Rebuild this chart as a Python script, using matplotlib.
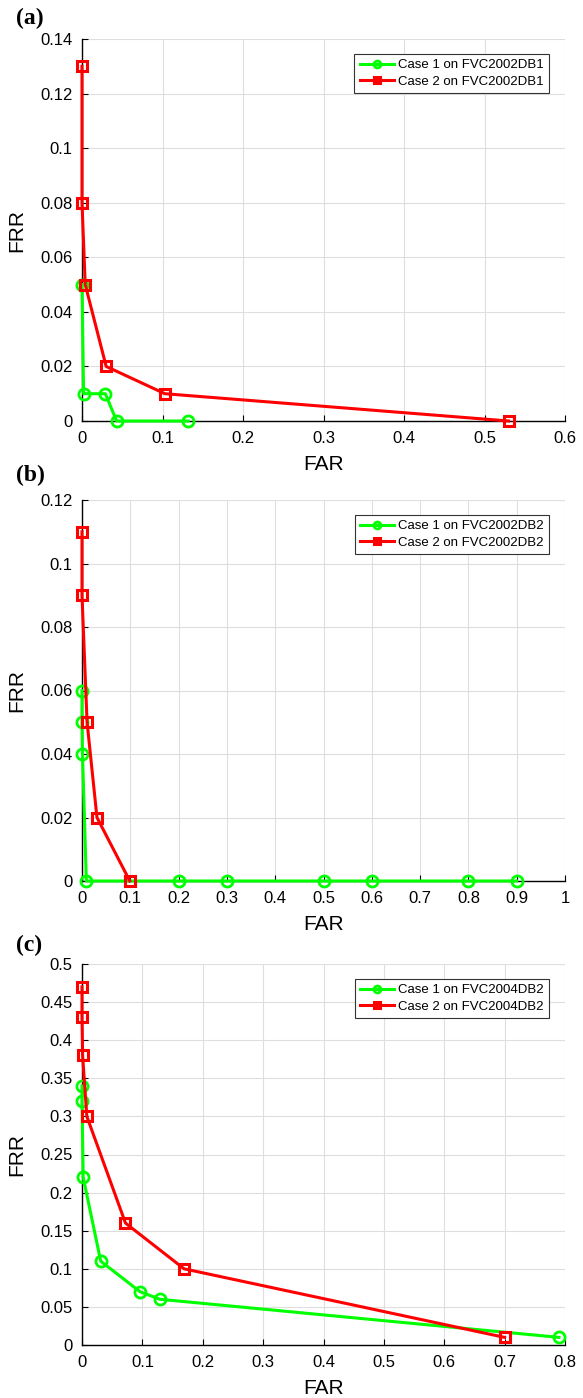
import matplotlib.pyplot as plt

plt.rcParams['font.family'] = ['Liberation Sans', 'DejaVu Sans']

# panel (a) FVC2002DB1
far_a1 = [0.0, 0.002, 0.029, 0.043, 0.132]
frr_a1 = [0.05, 0.01, 0.01, 0.0, 0.0]
far_a2 = [0.0, 0.0, 0.004, 0.030, 0.103, 0.53]
frr_a2 = [0.13, 0.08, 0.05, 0.02, 0.01, 0.0]

# panel (b) FVC2002DB2
far_b1 = [0.0, 0.0, 0.001, 0.009, 0.2, 0.3, 0.5, 0.6, 0.8, 0.9]
frr_b1 = [0.06, 0.05, 0.04, 0.0, 0.0, 0.0, 0.0, 0.0, 0.0, 0.0]
far_b2 = [0.0, 0.0, 0.0105, 0.031, 0.099]
frr_b2 = [0.11, 0.09, 0.05, 0.02, 0.0]

# panel (c) FVC2004DB2
far_c1 = [0.0, 0.0, 0.002, 0.031, 0.096, 0.129, 0.79]
frr_c1 = [0.34, 0.32, 0.22, 0.11, 0.07, 0.06, 0.01]
far_c2 = [0.0, 0.0, 0.001, 0.008, 0.072, 0.169, 0.70]
frr_c2 = [0.47, 0.43, 0.38, 0.30, 0.16, 0.10, 0.01]

panels = [
    ('(a)', far_a1, frr_a1, far_a2, frr_a2, 'FVC2002DB1', 0.6, 0.1, 0.14, 0.02),
    ('(b)', far_b1, frr_b1, far_b2, frr_b2, 'FVC2002DB2', 1.0, 0.1, 0.12, 0.02),
    ('(c)', far_c1, frr_c1, far_c2, frr_c2, 'FVC2004DB2', 0.8, 0.1, 0.5, 0.05),
]

W, H = 583, 1398
fig = plt.figure(figsize=(W / 100, H / 100), dpi=100)

# axes boxes in pixels: left, top, right, bottom
boxes = [(82, 39, 565, 421), (82, 500, 565, 881), (82, 964, 565, 1345)]
letter_y = [18, 475, 945]

for (lab, x1, y1, x2, y2, db, xmax, xstep, ymax, ystep), (l, t, r, b), ly in zip(panels, boxes, letter_y):
    ax = fig.add_axes([l / W, 1 - b / H, (r - l) / W, (b - t) / H])
    ax.plot(x1, y1, '-o', color='#00ff00', lw=2.2, ms=8, mfc='none', mew=2,
            label='Case 1 on ' + db, clip_on=False, zorder=3)
    ax.plot(x2, y2, '-s', color='#ff0000', lw=2.2, ms=7, mfc='none', mew=2.2,
            label='Case 2 on ' + db, clip_on=False, zorder=4)
    ax.set_xlim(0, xmax)
    ax.set_ylim(0, ymax)
    nx = int(round(xmax / xstep))
    ny = int(round(ymax / ystep))
    ax.set_xticks([round(i * xstep, 2) for i in range(nx + 1)])
    ax.set_yticks([round(i * ystep, 2) for i in range(ny + 1)])
    ax.set_xticklabels(['%g' % round(i * xstep, 2) for i in range(nx + 1)])
    ax.set_yticklabels(['%g' % round(i * ystep, 2) for i in range(ny + 1)])
    ax.grid(True, color='#dedede', lw=0.8)
    ax.set_axisbelow(True)
    for s in ['top', 'right']:
        ax.spines[s].set_visible(False)
    for s in ['left', 'bottom']:
        ax.spines[s].set_linewidth(1.0)
    ax.tick_params(direction='in', labelsize=12, length=4, width=0.8, pad=7)
    ax.set_xlabel('FAR', fontsize=15, labelpad=6.5)
    ax.set_ylabel('FRR', fontsize=15, labelpad=10)
    leg = ax.legend(loc='upper right', bbox_to_anchor=(0.967, 0.961),
                    borderaxespad=0, fontsize=9.5,
                    fancybox=False, edgecolor='#333333', framealpha=1,
                    handlelength=2.6, borderpad=0.4, labelspacing=0.3,
                    handletextpad=0.3)
    leg.get_frame().set_linewidth(0.8)
    for h in leg.legend_handles:
        h.set_markersize(5)
    fig.text(16 / W, 1 - ly / H, lab, fontsize=17, fontweight='bold',
             family=['Liberation Serif', 'DejaVu Serif'], va='center', ha='left')

fig.savefig('out.png', dpi=100)
